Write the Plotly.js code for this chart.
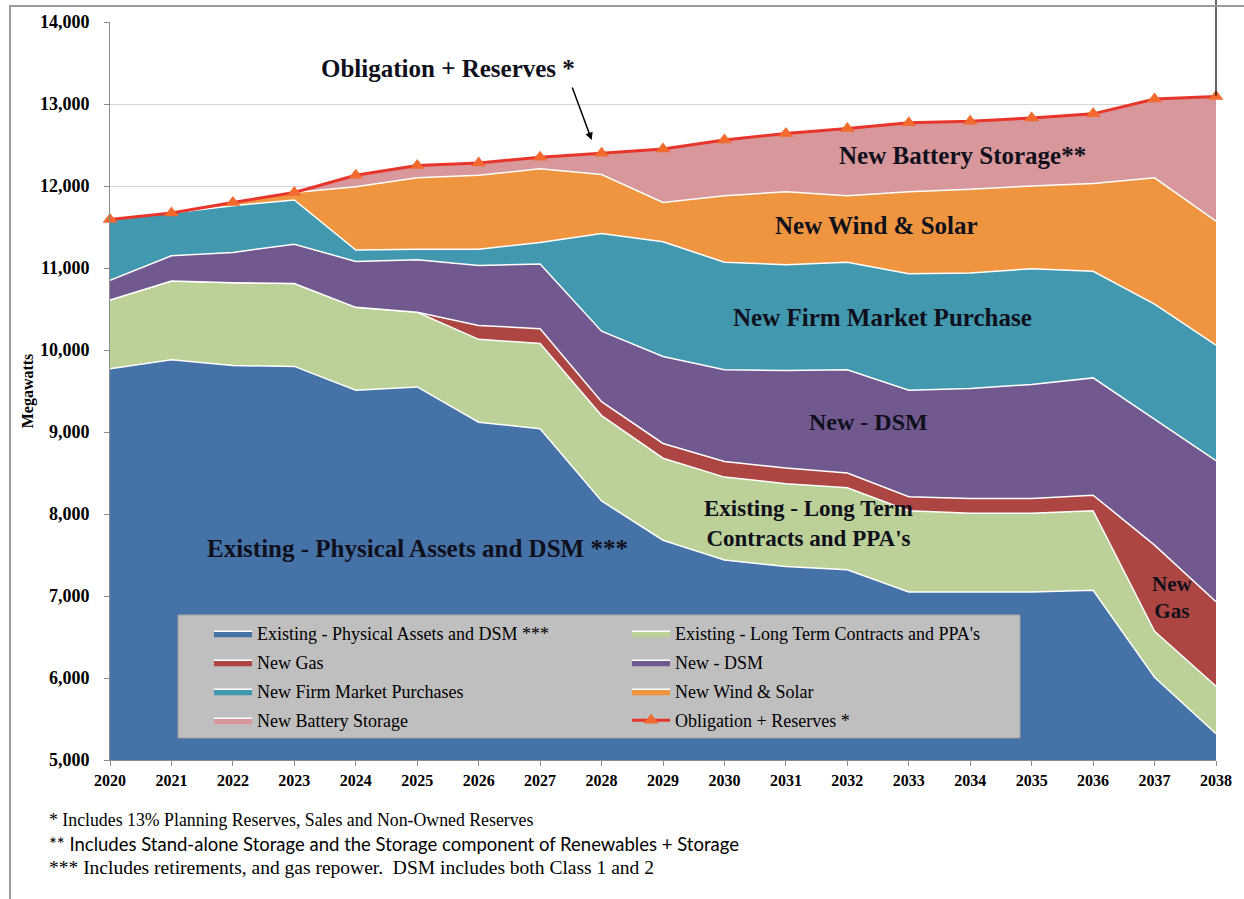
<!DOCTYPE html>
<html><head><meta charset="utf-8">
<script src="https://cdn.plot.ly/plotly-3.0.1.min.js"></script>
<style>
html,body{margin:0;padding:0;background:#fff;}
#wrap{position:relative;width:1244px;height:899px;overflow:hidden;}
#chart{position:absolute;left:0;top:0;width:1244px;height:899px;}
#frame{position:absolute;left:9px;top:5px;width:1240px;height:900px;border-left:2px solid #9a9a9a;border-top:2px solid #9a9a9a;pointer-events:none;}
</style></head><body>
<div id="wrap"><div id="chart"></div><div id="frame"></div></div>
<script>
const years = [2020, 2021, 2022, 2023, 2024, 2025, 2026, 2027, 2028, 2029, 2030, 2031, 2032, 2033, 2034, 2035, 2036, 2037, 2038];
const existingPhysical = [9770, 9880, 9810, 9800, 9510, 9550, 9120, 9040, 8160, 7680, 7440, 7360, 7320, 7050, 7050, 7050, 7070, 6010, 5320];
const existingLongTerm = [840, 960, 1010, 1010, 1010, 910, 1010, 1040, 1040, 1000, 1010, 1010, 1000, 990, 960, 960, 970, 560, 580];
const newGas = [0, 0, 0, 0, 0, 0, 170, 180, 170, 180, 190, 190, 180, 170, 180, 180, 190, 1050, 1030];
const newDSM = [240, 310, 370, 480, 560, 640, 730, 790, 860, 1060, 1120, 1190, 1260, 1300, 1340, 1390, 1430, 1530, 1720];
const newFirmMarket = [740, 520, 570, 540, 140, 130, 200, 260, 1190, 1400, 1310, 1290, 1310, 1420, 1410, 1410, 1300, 1410, 1410];
const newWindSolar = [0, 0, 40, 90, 770, 870, 900, 900, 720, 480, 810, 890, 810, 1000, 1020, 1010, 1070, 1540, 1510];
const newBattery = [0, 0, 0, 0, 140, 150, 150, 140, 260, 650, 680, 710, 820, 840, 830, 830, 850, 960, 1520];
const obligationReserves = [11590, 11670, 11800, 11920, 12130, 12250, 12280, 12350, 12400, 12450, 12560, 12640, 12700, 12770, 12790, 12830, 12880, 13060, 13090];

const serif = '"Liberation Serif", "Times New Roman", serif';
const ink = '#10101c';

function area(name, y, color, legend) {
  return {
    type: 'scatter', mode: 'lines', x: years, y: y, name: name,
    stackgroup: 'one', fillcolor: color,
    line: {color: '#ffffff', width: 1.5},
    legend: legend, legendgroup: name
  };
}

const data = [
  area('Existing - Physical Assets and DSM ***', existingPhysical, '#4572a7', 'legend'),
  area("Existing - Long Term Contracts and PPA's", existingLongTerm, '#bcd198', 'legend2'),
  area('New Gas', newGas, '#ad4542', 'legend'),
  area('New - DSM', newDSM, '#71588f', 'legend2'),
  area('New Firm Market Purchases', newFirmMarket, '#4198af', 'legend'),
  area('New Wind & Solar', newWindSolar, '#f0953f', 'legend2'),
  area('New Battery Storage', newBattery, '#d8979a', 'legend'),
  {
    type: 'scatter', mode: 'lines+markers', x: years, y: obligationReserves,
    name: 'Obligation + Reserves *',
    line: {color: '#e8352b', width: 3},
    marker: {symbol: 'triangle-up', size: 13, color: '#f26a2e'},
    cliponaxis: false, legend: 'legend2', legendgroup: 'obl'
  }
];

const legendBase = {
  y: 0.1965, xanchor: 'left', yanchor: 'top', orientation: 'v',
  bgcolor: 'rgba(0,0,0,0)', borderwidth: 0,
  font: {family: serif, size: 18, color: '#000'},
  itemwidth: 38, traceorder: 'grouped', tracegroupgap: 2.6
};

function label(text, x, y, size) {
  return {x: x, y: y, xref: 'x', yref: 'y', text: text, showarrow: false,
    font: {family: serif, size: size || 24, color: ink, weight: 700}};
}
function note(text, y, family, size) {
  return {x: -0.057, y: y, xref: 'paper', yref: 'paper', xanchor: 'left', yanchor: 'middle',
    text: text, showarrow: false, align: 'left', font: {family: family, size: size, color: '#000'}};
}

const layout = {
  width: 1244, height: 899,
  margin: {l: 110, r: 28, t: 22, b: 139, pad: 0},
  paper_bgcolor: '#ffffff', plot_bgcolor: '#ffffff',
  showlegend: true,
  legend: Object.assign({}, legendBase, {x: 0.0895}),
  legend2: Object.assign({}, legendBase, {x: 0.4675}),
  xaxis: {
    range: [2020, 2038], tick0: 2020, dtick: 1, tickformat: 'd',
    showgrid: false, zeroline: false, showline: true, linecolor: '#8c8c8c', linewidth: 1,
    ticks: 'outside', ticklen: 5, tickcolor: '#8c8c8c', ticklabelstandoff: 1,
    tickfont: {family: serif, size: 16, color: '#000', weight: 700}
  },
  yaxis: {
    range: [5000, 14000], dtick: 1000, tickformat: ',',
    showgrid: true, gridcolor: '#d4d4d4', gridwidth: 1, zeroline: false,
    showline: true, linecolor: '#8c8c8c', linewidth: 1,
    ticks: 'outside', ticklen: 5, tickcolor: '#8c8c8c', ticklabelstandoff: 11,
    tickfont: {family: serif, size: 18, color: '#000', weight: 700},
    title: {text: 'Megawatts', font: {family: serif, size: 16, color: '#000', weight: 700}, standoff: 2}
  },
  shapes: [
    {type: 'rect', xref: 'paper', yref: 'paper', x0: 0.0615, x1: 0.8228, y0: 0.0298, y1: 0.1965,
      fillcolor: '#bfbfbf', line: {color: '#a0a0a0', width: 1}, layer: 'above'},
    {type: 'line', xref: 'paper', yref: 'paper', x0: 1, x1: 1, y0: 0.9, y1: 1.03,
      line: {color: '#000000', width: 1.2}, layer: 'above'}
  ],
  annotations: [
    label('Obligation + Reserves *', 2025.5, 13439, 25),
    {x: 2027.84, y: 12561, xref: 'x', yref: 'y', text: '', showarrow: true,
      arrowhead: 2, arrowsize: 1, arrowwidth: 1.5, arrowcolor: '#000', ax: -20, ay: -54},
    label('New Battery Storage**', 2033.88, 12378, 25),
    label('New Wind &amp; Solar', 2032.48, 11524, 25),
    label('New Firm Market Purchase', 2032.58, 10402, 25),
    label('New - DSM', 2032.34, 9122, 24),
    label("Existing - Long Term<br>Contracts and PPA's", 2031.36, 7890, 23),
    label('Existing - Physical Assets and DSM ***', 2025.01, 7585, 25),
    label('New<br>Gas', 2037.29, 6976, 21),
    note('* Includes 13% Planning Reserves, Sales and Non-Owned Reserves', -0.0813, serif, 17.8),
    note('** Includes Stand-alone Storage and the Storage component of Renewables + Storage', -0.1138, 'Lato, "Open Sans", sans-serif', 18.5),
    note('*** Includes retirements, and gas repower.&nbsp; DSM includes both Class 1 and 2', -0.145, serif, 19.5)
  ]
};

Plotly.newPlot('chart', data, layout, {displayModeBar: false, staticPlot: true});
</script></body></html>
